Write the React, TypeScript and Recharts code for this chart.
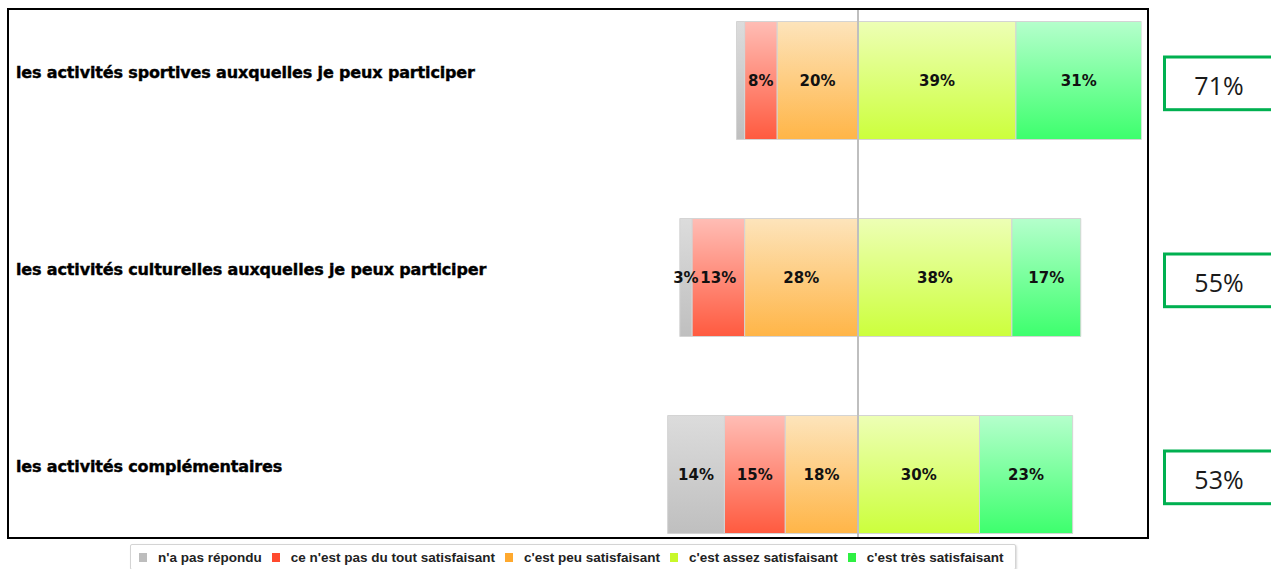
import React from 'react';
import { BarChart, Bar, XAxis, YAxis, ReferenceLine, LabelList, Legend } from 'recharts';

const categories = [
  'les activités sportives auxquelles je peux participer',
  'les activités culturelles auxquelles je peux participer',
  'les activités complémentaires',
];
const nonReponse = [2, 3, 14];
const pasDuTout = [8, 13, 15];
const peuSatisfaisant = [20, 28, 18];
const assezSatisfaisant = [39, 38, 30];
const tresSatisfaisant = [31, 17, 23];
const satisfactionTotals = [71, 55, 53];

const seriesKeys = ['nr', 'pdt', 'peu', 'assez', 'tres'];
const seriesNames = [
  "n'a pas répondu",
  "ce n'est pas du tout satisfaisant",
  "c'est peu satisfaisant",
  "c'est assez satisfaisant",
  "c'est très satisfaisant",
];
const seriesColors = ['#bdbdbd', '#ff4a2e', '#ffa92e', '#c8f82a', '#2ef043'];
const gradientTop = ['#dcdcdc', '#ffbdb5', '#fde4bb', '#edffb5', '#b5ffcc'];
const gradientBottom = ['#bfbfbf', '#ff5a3f', '#ffb547', '#ccff3c', '#3dff6d'];

const data = categories.map((name, i) => ({
  name,
  nr: -nonReponse[i],
  pdt: -pasDuTout[i],
  peu: -peuSatisfaisant[i],
  assez: assezSatisfaisant[i],
  tres: tresSatisfaisant[i],
  total: satisfactionTotals[i],
}));

const CHART_TOP = -30;
const BOX_TOP = 10 - CHART_TOP;
const BOX_BOTTOM = 537 - CHART_TOP;

const CategoryTick = (props: any) => {
  const { y, payload } = props;
  return (
    <text
      x={16}
      y={y - 2}
      textAnchor="start"
      fontFamily="DejaVu Sans, sans-serif"
      fontWeight="bold"
      fontSize={16}
      letterSpacing={-0.15}
      fill="#000"
      stroke="#000"
      strokeWidth={0.4}
    >
      {payload.value}
    </text>
  );
};

const SegmentLabel = (props: any) => {
  const { x, y, width, height, value } = props;
  const v = Math.abs(Number(value));
  if (v < 3) return null;
  return (
    <text
      x={Number(x) + Number(width) / 2}
      y={Number(y) + Number(height) / 2}
      textAnchor="middle"
      dominantBaseline="central"
      fontFamily="DejaVu Sans, sans-serif"
      fontWeight="bold"
      fontSize={15}
      fill="#111"
    >
      {v}%
    </text>
  );
};

const TotalBox = (props: any) => {
  const { y, height, value } = props;
  const cy = Number(y) + Number(height) / 2;
  return (
    <g>
      <rect x={1164.5} y={cy - 23.5} width={140} height={52.7} fill="#fff" stroke="#00b050" strokeWidth={3} />
      <text
        x={1219}
        y={cy + 4}
        textAnchor="middle"
        dominantBaseline="central"
        fontFamily="Open Sans, sans-serif"
        fontSize={25}
        fill="#1a1a1a"
      >
        {value}%
      </text>
    </g>
  );
};

const CenterLine = (props: any) => {
  const { x1, x2 } = props;
  return <line x1={x1} x2={x2} y1={BOX_TOP} y2={BOX_BOTTOM} stroke="#bfbfbf" strokeWidth={2} />;
};

const LegendContent = () => (
  <div
    style={{
      width: 886,
      height: 26,
      boxSizing: 'border-box',
      border: '1px solid #d4d4d4',
      borderRadius: 2,
      boxShadow: '1px 1px 2px rgba(0,0,0,0.15)',
      background: '#fff',
      display: 'flex',
      alignItems: 'center',
      paddingLeft: 8,
      fontFamily: 'Liberation Sans, Arial, sans-serif',
      fontWeight: 'bold',
      fontSize: 13.5,
      color: '#222',
      whiteSpace: 'nowrap',
    }}
  >
    {seriesNames.map((n, i) => (
      <div key={n} style={{ display: 'flex', alignItems: 'center', marginRight: 10 }}>
        <span style={{ width: 8, height: 9, background: seriesColors[i], marginRight: 11, display: 'inline-block' }} />
        <span>{n}</span>
      </div>
    ))}
  </div>
);

// stacking order for diverging bars: nearest to zero first
const stackOrder = [2, 1, 0, 3, 4];

export default function App() {
  return (
    <div style={{ position: 'absolute', left: 0, top: 0, width: 1271, height: 569, overflow: 'hidden', background: '#fff' }}>
      <div
        style={{
          position: 'absolute',
          left: 7,
          top: 8,
          width: 1142,
          height: 531,
          boxSizing: 'border-box',
          border: '2px solid #000',
          background: '#fff',
        }}
      />
      <div style={{ position: 'absolute', left: 0, top: CHART_TOP }}>
        <BarChart
          width={1271}
          height={610}
          data={data}
          layout="vertical"
          stackOffset="sign"
          barSize={118}
          margin={{ top: 11.5, right: 129.5, bottom: 7.5, left: 0 }}
        >
          <defs>
            {seriesKeys.map((k, i) => (
              <linearGradient key={k} id={`grad-${k}`} x1="0" y1="0" x2="0" y2="1">
                <stop offset="0%" stopColor={gradientTop[i]} />
                <stop offset="100%" stopColor={gradientBottom[i]} />
              </linearGradient>
            ))}
          </defs>
          <XAxis type="number" domain={[-60, 70]} allowDataOverflow hide />
          <YAxis
            type="category"
            dataKey="name"
            width={615}
            axisLine={false}
            tickLine={false}
            tick={<CategoryTick />}
            interval={0}
          />
          {stackOrder.map((i) => (
            <Bar
              key={seriesKeys[i]}
              dataKey={seriesKeys[i]}
              name={seriesNames[i]}
              stackId="a"
              fill={`url(#grad-${seriesKeys[i]})`}
              stroke="#d4d4d4"
              strokeWidth={1}
              isAnimationActive={false}
            >
              <LabelList dataKey={seriesKeys[i]} content={<SegmentLabel />} />
              {seriesKeys[i] === 'tres' ? <LabelList dataKey="total" content={<TotalBox />} /> : null}
            </Bar>
          ))}
          <ReferenceLine x={0} stroke="#bfbfbf" strokeWidth={2} shape={<CenterLine />} />
          <Legend
            layout="horizontal"
            verticalAlign="middle"
            align="center"
            wrapperStyle={{ left: 130, top: 574, width: 886 }}
            content={<LegendContent />}
          />
        </BarChart>
      </div>
    </div>
  );
}
